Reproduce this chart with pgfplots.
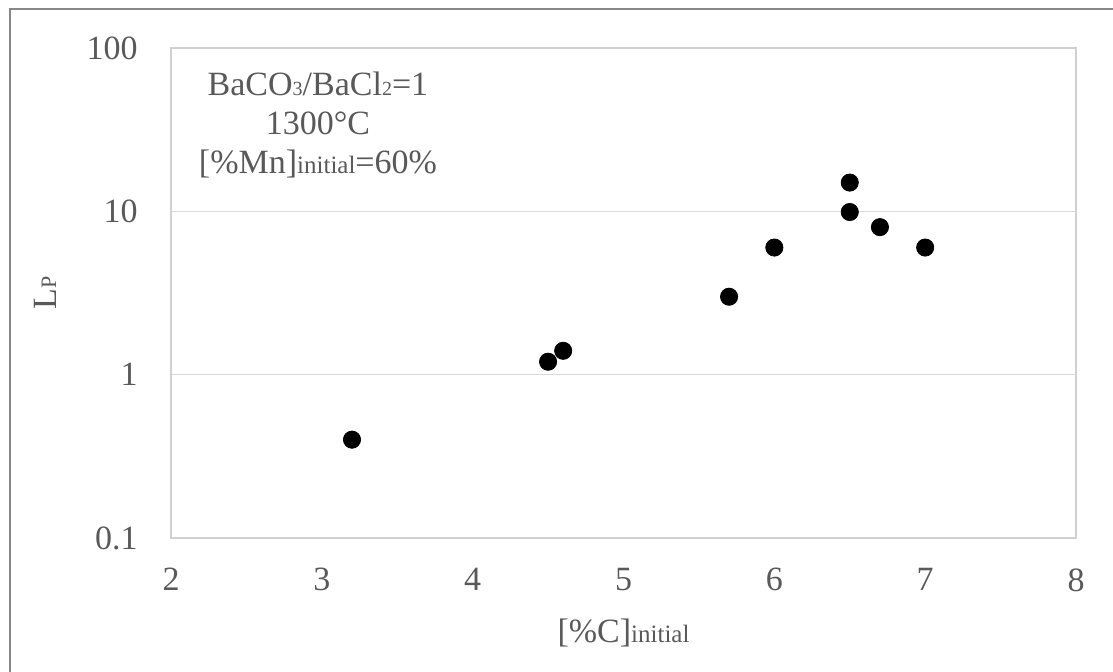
\documentclass[border=0pt]{standalone}
\usepackage{fontspec}
\setmainfont{Liberation Serif}
\usepackage{pgfplots}
\pgfplotsset{compat=1.18}
\definecolor{txt}{HTML}{595959}
\definecolor{gridc}{HTML}{D9D9D9}
\definecolor{boxc}{HTML}{D0D0D0}
\definecolor{framec}{HTML}{878787}
\begin{document}
\begin{tikzpicture}
\useasboundingbox (0,0) rectangle (556.5pt,336pt);
% outer chart frame (top and left edges)
\draw[framec, line width=1.4pt] (5pt,0pt) -- (5pt,331.5pt) -- (556.5pt,331.5pt);
\begin{axis}[
  at={(85.5pt,67pt)}, anchor=south west,
  width=452.5pt, height=245pt, scale only axis,
  clip mode=individual,
  xmin=2, xmax=8,
  ymode=log, ymin=0.1, ymax=100,
  xtick={2,3,4,5,6,7,8},
  ytick={0.1,1,10,100}, yticklabels={0.1,1,10,100},
  yminorticks=false,
  tick style={draw=none},
  ymajorgrids, grid style={gridc, line width=0.65pt},
  axis line style={boxc, line width=0.65pt},
  ticklabel style={font=\fontsize{17}{20}\selectfont, text=txt, inner sep=0pt},
  /pgf/number format/assume math mode=true,
  yticklabel shift=16.5pt,
  xticklabel shift=15pt,
]
\addplot[only marks, mark=*, mark size=4.3pt, black] table {
x y
3.2 0.4
4.5 1.2
4.6 1.4
5.7 3
6.0 6
6.5 15
6.5 9.9
6.7 8
7.0 6
};
\node[align=center, text=txt, font=\fontsize{17}{19.5}\selectfont]
  at (axis description cs:0.1624,0.843)
  {BaCO{\fontsize{10}{10}\selectfont 3}/BaCl{\fontsize{10}{10}\selectfont 2}=1\\
   1300°C\\{[}\%Mn]{\fontsize{12.5}{12.5}\selectfont initial}=60\%};
\node[text=txt, font=\fontsize{17}{20}\selectfont]
  at (axis description cs:0.5,-0.1939)
  {{[}\%C]{\fontsize{12.5}{12.5}\selectfont initial}};
\node[rotate=90, text=txt, font=\fontsize{17}{20}\selectfont]
  at (axis description cs:-0.1392,0.5)
  {L{\fontsize{11}{11}\selectfont P}};
\end{axis}
\end{tikzpicture}
\end{document}
